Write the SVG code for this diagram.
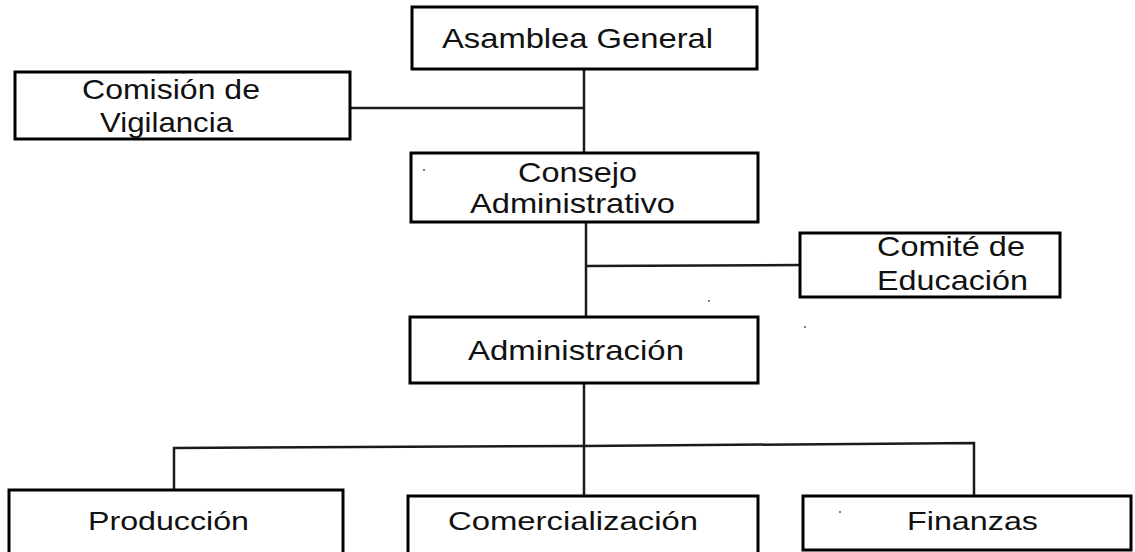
<svg xmlns="http://www.w3.org/2000/svg" width="1135" height="552" viewBox="0 0 1135 552">
<style>
.box{fill:#fff;stroke:#000;stroke-width:3}
.ln{fill:none;stroke:#1a1a1a;stroke-width:2.5}
text{font-family:"Liberation Sans",Arial,sans-serif;font-size:28px;fill:#111}
text.s{font-size:26.5px}
</style>
<rect width="1135" height="552" fill="#fff"/>
<g id="connectors">
<line class="ln" x1="584" y1="69" x2="584" y2="153"/>
<line class="ln" x1="350" y1="108" x2="584" y2="108"/>
<line class="ln" x1="586" y1="222" x2="586" y2="317"/>
<line class="ln" x1="586" y1="266" x2="800" y2="265"/>
<line class="ln" x1="584" y1="383" x2="584" y2="496"/>
<polyline class="ln" points="174,490 174,448 584,446 974,443 974,496"/>
</g>
<g id="asamblea"><rect class="box" x="412" y="7" width="345" height="62"/><text x="442" y="48" textLength="271" lengthAdjust="spacingAndGlyphs">Asamblea General</text></g>
<g id="comision"><rect class="box" x="15" y="72" width="335" height="67"/><text x="82" y="99" textLength="178" lengthAdjust="spacingAndGlyphs">Comisión de</text><text x="100" y="132" textLength="133" lengthAdjust="spacingAndGlyphs">Vigilancia</text></g>
<g id="consejo"><rect class="box" x="411" y="153" width="347" height="69"/><text x="518" y="182" textLength="119" lengthAdjust="spacingAndGlyphs">Consejo</text><text x="470" y="213" textLength="205" lengthAdjust="spacingAndGlyphs">Administrativo</text></g>
<g id="comite"><rect class="box" x="800" y="233" width="260" height="64"/><text x="877" y="256" textLength="148" lengthAdjust="spacingAndGlyphs">Comité de</text><text x="877" y="290" textLength="151" lengthAdjust="spacingAndGlyphs">Educación</text></g>
<g id="administracion"><rect class="box" x="410" y="317" width="348" height="66"/><text x="468" y="360" textLength="216" lengthAdjust="spacingAndGlyphs">Administración</text></g>
<g id="produccion"><rect class="box" x="9" y="490" width="334" height="70"/><text class="s" x="88" y="530" textLength="161" lengthAdjust="spacingAndGlyphs">Producción</text></g>
<g id="comercializacion"><rect class="box" x="408" y="496" width="350" height="64"/><text class="s" x="448" y="530" textLength="250" lengthAdjust="spacingAndGlyphs">Comercialización</text></g>
<g id="finanzas"><rect class="box" x="803" y="496" width="328" height="54"/><text class="s" x="907" y="530" textLength="131" lengthAdjust="spacingAndGlyphs">Finanzas</text></g>
<g id="specks" fill="#555">
<circle cx="424" cy="170" r="1"/><circle cx="709" cy="301" r="1"/><circle cx="805" cy="327" r="1"/><circle cx="840" cy="512" r="1"/>
</g>
</svg>
